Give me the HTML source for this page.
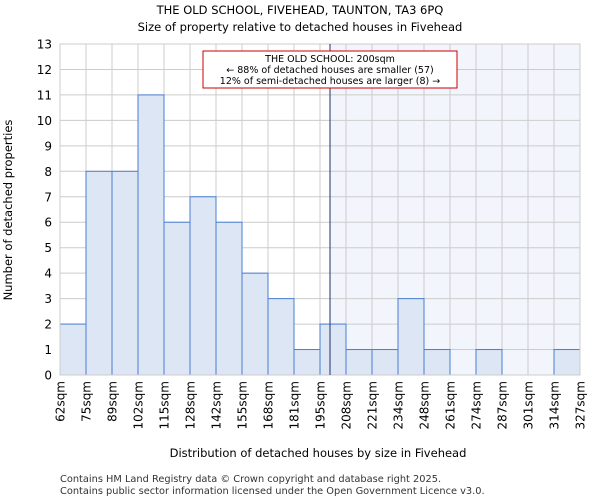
<!DOCTYPE html>
<html><head><meta charset="utf-8"><style>body{margin:0;background:#fff}svg{display:block;font-family:"DejaVu Sans","Liberation Sans",sans-serif}</style></head>
<body>
<svg id="c" width="600" height="500">
<text x="300" y="14" text-anchor="middle" font-size="11.5">THE OLD SCHOOL, FIVEHEAD, TAUNTON, TA3 6PQ</text>
<text x="300" y="31" text-anchor="middle" font-size="11.5">Size of property relative to detached houses in Fivehead</text>
<g id="plot"></g>
<text x="318" y="457" text-anchor="middle" font-size="11.5">Distribution of detached houses by size in Fivehead</text>
<text transform="translate(12,210) rotate(-90)" text-anchor="middle" font-size="11.5">Number of detached properties</text>
<text x="60" y="482" font-size="9.8" fill="#333">Contains HM Land Registry data © Crown copyright and database right 2025.</text>
<text x="60" y="494" font-size="9.8" fill="#333">Contains public sector information licensed under the Open Government Licence v3.0.</text>
</svg>
<script>
const binLabels=["62sqm","75sqm","89sqm","102sqm","115sqm","128sqm","142sqm","155sqm","168sqm","181sqm","195sqm","208sqm","221sqm","234sqm","248sqm","261sqm","274sqm","287sqm","301sqm","314sqm","327sqm"];
const binStarts=[62,75,89,102,115,128,142,155,168,181,195,208,221,234,248,261,274,287,301,314,327];
const counts=[2,8,8,11,6,7,6,4,3,1,2,1,1,3,1,0,1,0,0,1];
const yTicks=[0,1,2,3,4,5,6,7,8,9,10,11,12,13];
const markerValue=200;
const NS="http://www.w3.org/2000/svg";
const L=60,R=580,T=44,B=375,yMax=13;
const n=counts.length,bw=(R-L)/n;
const x=i=>L+i*bw;
const y=v=>B-(v/yMax)*(B-T);
function xv(v){for(let i=0;i<n;i++){if(v>=binStarts[i]&&v<=binStarts[i+1])return x(i)+bw*(v-binStarts[i])/(binStarts[i+1]-binStarts[i]);}return R;}
const g=document.getElementById('plot');
function mk(t,a){const e=document.createElementNS(NS,t);for(const k in a)e.setAttribute(k,a[k]);g.appendChild(e);return e;}
const mx=xv(markerValue);
let e=mk('rect',{x:mx,y:T,width:R-mx,height:B-T,fill:'#f3f5fc'});


for(const t of yTicks){
 e=mk('line',{x1:L,x2:R,y1:y(t),y2:y(t),stroke:'#ccc','stroke-width':1});
 
 
 e=mk('text',{x:L-8,y:y(t)+4.5,'text-anchor':'end','font-size':12});
 e.textContent=t;
 
 
}
for(let i=0;i<=n;i++){
 e=mk('line',{x1:x(i),x2:x(i),y1:T,y2:B,stroke:'#ccc','stroke-width':1});
 
 
 e=mk('text',{transform:`translate(${x(i)+4.5},${B+6}) rotate(-90)`,'text-anchor':'end','font-size':12});
 e.textContent=binLabels[i];
 
 
}
counts.forEach((v,i)=>{
 if(v<=0)return;
 e=mk('rect',{x:x(i),y:y(v),width:bw,height:B-y(v),fill:'#dce6f5',stroke:'#4a7fd0','stroke-width':1});
 
 
});
e=mk('rect',{x:L,y:T,width:R-L,height:B-T,fill:'none',stroke:'#ccc'});


e=mk('line',{x1:mx,x2:mx,y1:T,y2:B,stroke:'#223366','stroke-width':1});


e=mk('rect',{x:203,y:51,width:254,height:37,fill:'#fff',stroke:'#c00','stroke-width':1});


const lines=["THE OLD SCHOOL: 200sqm","← 88% of detached houses are smaller (57)","12% of semi-detached houses are larger (8) →"];
lines.forEach((s,k)=>{
 e=mk('text',{x:330,y:62+k*11,'text-anchor':'middle','font-size':9.5});
 e.textContent=s;
 
 
});
</script>
</body></html>
